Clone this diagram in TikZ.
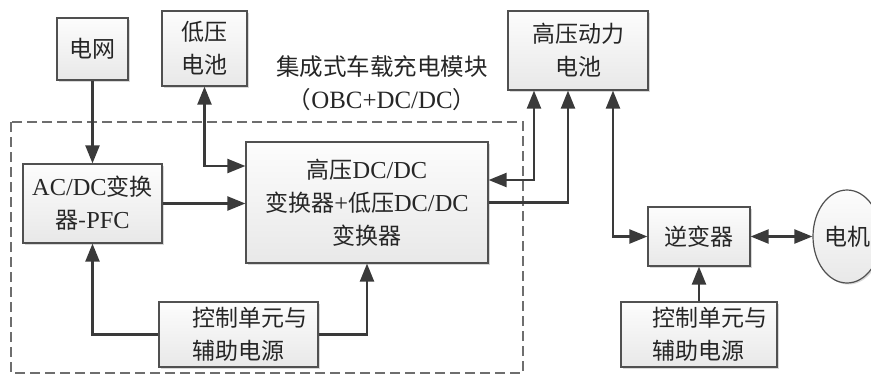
\documentclass[tikz,border=0pt]{standalone}
\usepackage{fontspec}
\setmainfont[Scale=1.06]{Liberation Serif}
\newfontfamily\cjk{Noto Sans CJK SC}
\newcommand\zh[1]{{\cjk #1}}
\usetikzlibrary{arrows.meta,shapes.geometric,shadows,calc}
\definecolor{boxc}{HTML}{505050}
\definecolor{linec}{HTML}{3A3A3A}
\definecolor{dashc}{HTML}{6E6E6E}
\definecolor{txtc}{HTML}{262626}
\begin{document}
\begin{tikzpicture}[x=1pt,y=-1pt,
  box/.style={draw=boxc, line width=1.2pt, top color=gray!2, bottom color=gray!18,
    drop shadow={shadow xshift=1.5pt, shadow yshift=-1.5pt, fill=gray!60, opacity=0.5},
    align=center, inner sep=0pt, font=\fontsize{23}{33}\selectfont, text=txtc},
  arr/.style={draw=linec, line width=2.2pt, -{Triangle[length=18pt,width=14pt]}},
  darr/.style={draw=linec, line width=2.2pt, {Triangle[length=18pt,width=14pt]}-{Triangle[length=18pt,width=14pt]}},
  frame/.style={draw=dashc, line width=1.6pt, dash pattern=on 10pt off 5pt},
  title/.style={align=center, inner sep=0pt, font=\fontsize{23.5}{33}\selectfont, text=txtc}
]
\useasboundingbox (0,0) rectangle (871,376);

% dashed module frame
\draw[frame] (11,122) rectangle (523,373);

\node[title] (ttl) at (382,83.5) {\zh{集成式车载充电模块}\\\zh{（}OBC+DC/DC\zh{）}};

\node[box, minimum width=71pt, minimum height=62pt] (grid) at (92.5,49) {\zh{电网}};
\node[box, minimum width=85pt, minimum height=75pt] (lvb) at (204.5,48.5) {\zh{低压}\\\zh{电池}};
\node[box, minimum width=140pt, minimum height=79pt] (hvb) at (578,50.5) {\zh{高压动力}\\\zh{电池}};
\node[box, minimum width=139pt, minimum height=79pt] (acdc) at (92.5,203.5) {AC/DC\zh{变换}\\\zh{器-}PFC};
\node[box, minimum width=242pt, minimum height=121pt] (dcdc) at (367,202.5) {\zh{高压}DC/DC\\\zh{变换器}+\zh{低压}DC/DC\\\zh{变换器}};
\node[box, minimum width=159pt, minimum height=65pt, align=left] (ctrlL) at (238.5,334.5) {\hspace*{22pt}\zh{控制单元与}\\\hspace*{22pt}\zh{辅助电源}};
\node[box, minimum width=102pt, minimum height=59pt] (inv) at (699,236.5) {\zh{逆变器}};
\node[box, minimum width=156pt, minimum height=65pt, align=left] (ctrlR) at (699,334.5) {\hspace*{22pt}\zh{控制单元与}\\\hspace*{22pt}\zh{辅助电源}};
\node[box, ellipse, minimum width=68pt, minimum height=93pt] (motor) at (847,236.5) {\zh{电机}};

% connectors
\draw[arr] (grid.south) -- (acdc.north);
\draw[darr] (lvb.south) |- ([yshift=36.5pt]dcdc.west);
\draw[arr] (acdc.east) -- (acdc.east -| dcdc.west);
\draw[arr] (ctrlL.west) -| (acdc.south);
\draw[arr] (ctrlL.east) -| (dcdc.south);
\draw[darr] ([yshift=22.5pt]dcdc.east) -| ([xshift=-44pt]hvb.south);
\draw[arr] (dcdc.east) -| ([xshift=-10pt]hvb.south);
\draw[darr] ([xshift=35pt]hvb.south) |- (inv.west);
\draw[darr] (inv.east) -- (motor.west);
\draw[arr] (ctrlR.north) -- (inv.south);
\end{tikzpicture}
\end{document}
